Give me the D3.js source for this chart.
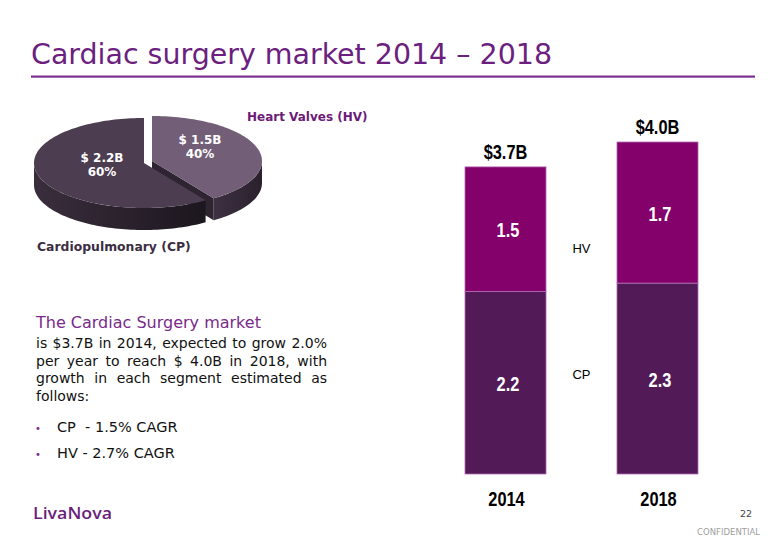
<!DOCTYPE html>
<html><head><meta charset="utf-8">
<script src="https://cdn.jsdelivr.net/npm/d3@7"></script>
<style>
html,body{margin:0;padding:0;background:#fff;}
svg{display:block;}
</style></head>
<body>
<svg id="chart" width="780" height="540"></svg>
<script>
// ---- data ----
const years = ["2014", "2018"];
const segments = ["CP", "HV"];
const cpValues = [2.2, 2.3];
const hvValues = [1.5, 1.7];
const totalLabels = ["$3.7B", "$4.0B"];
const pieNames = ["Cardiopulmonary (CP)", "Heart Valves (HV)"];
const pieValues = [2.2, 1.5];
const pieDollarLabels = ["$ 2.2B", "$ 1.5B"];
const piePctLabels = ["60%", "40%"];
const bodyHeading = "The Cardiac Surgery market";
const bodyLines = ["is $3.7B in 2014, expected to grow 2.0%", "per year to reach $ 4.0B in 2018, with", "growth in each segment estimated as", "follows:"];
const bullets = ["CP  - 1.5% CAGR", "HV - 2.7% CAGR"];

const svg = d3.select("#chart");
const purple = "#6c1f7e";
const sans = "'DejaVu Sans', Verdana, sans-serif";
const narrow = "'Liberation Sans', Arial, sans-serif";
const NARROW = 0.82;

// helper: condensed bold text via horizontal scaling
function narrowText(parent, xPos, yPos, txt, size, fill) {
  return parent.append("text")
    .attr("transform", `translate(${xPos},${yPos}) scale(${NARROW},1)`)
    .attr("text-anchor", "middle")
    .attr("font-family", narrow).attr("font-weight", "bold").attr("font-size", size)
    .attr("fill", fill).text(txt);
}

// ---- title ----
svg.append("text").attr("x", 31).attr("y", 64)
  .attr("font-family", "'DejaVu Sans Condensed', 'DejaVu Sans', sans-serif")
  .attr("font-size", 29).attr("fill", purple)
  .attr("textLength", 521).attr("lengthAdjust", "spacingAndGlyphs")
  .text("Cardiac surgery market 2014 \u2013 2018");
svg.append("rect").attr("x", 31).attr("y", 75.5).attr("width", 724).attr("height", 2.2).attr("fill", "#7d3190");

// ---- stacked bars ----
const x = d3.scaleBand().domain(years).range([465, 698]).paddingInner(0.467).paddingOuter(0);
const y = d3.scaleLinear().domain([0, 4.0]).range([474, 142]);
const stackData = years.map((yr, i) => ({year: yr, CP: cpValues[i], HV: hvValues[i]}));
const stacked = d3.stack().keys(segments)(stackData);
const barColor = {CP: "#521a57", HV: "#84006a"};

const g = svg.append("g");
stacked.forEach(layer => {
  g.selectAll(null).data(layer).enter().append("rect")
    .attr("x", d => x(d.data.year))
    .attr("y", d => y(d[1]))
    .attr("width", x.bandwidth())
    .attr("height", d => y(d[0]) - y(d[1]))
    .attr("fill", barColor[layer.key])
    .attr("stroke", "#b26cb4").attr("stroke-width", 0.8);
  layer.forEach(d => {
    narrowText(g, x(d.data.year) + x.bandwidth() / 2 + 2.5, (y(d[0]) + y(d[1])) / 2 + 8,
      d3.format(".1f")(d[1] - d[0]), 20, "#fff");
  });
});
// totals
stackData.forEach((d, i) => {
  narrowText(g, x(d.year) + x.bandwidth() / 2, y(d.CP + d.HV) - 8, totalLabels[i], 20, "#000");
});
// x axis labels
const xAxis = svg.append("g").attr("transform", "translate(0,488)")
  .call(d3.axisBottom(x).tickSize(0).tickPadding(0));
xAxis.select(".domain").remove();
xAxis.selectAll(".tick text").attr("font-family", narrow).attr("font-weight", "bold")
  .attr("font-size", 20).attr("fill", "#000").attr("dy", "0.9em")
  .attr("transform", `scale(${NARROW},1)`)
  .attr("x", 0);
xAxis.selectAll(".tick").each(function() {
  const t = d3.select(this);
  const tr = t.attr("transform");
  const m = /translate\(([-\d.]+),/.exec(tr);
  t.attr("transform", `translate(${(+m[1]) + 1},0)`);
});
// segment legend labels between bars
const midX = (x(years[0]) + x(years[1]) + x.bandwidth()) / 2;
svg.append("text").attr("x", midX).attr("y", 253).attr("text-anchor", "middle")
  .attr("font-family", "'Liberation Sans', Arial, sans-serif").attr("font-size", 13).text("HV");
svg.append("text").attr("x", midX).attr("y", 379).attr("text-anchor", "middle")
  .attr("font-family", "'Liberation Sans', Arial, sans-serif").attr("font-size", 13).text("CP");

// ---- 3D pie ----
const defs = svg.append("defs");
function sideGrad(id, c1, c2) {
  const gr = defs.append("linearGradient").attr("id", id).attr("x1", "0").attr("x2", "1").attr("y1", "0").attr("y2", "0");
  gr.append("stop").attr("offset", "0").attr("stop-color", c1);
  gr.append("stop").attr("offset", "1").attr("stop-color", c2);
}
sideGrad("cpSide", "#3a2e3d", "#1c161e");
sideGrad("hvSide", "#3e3142", "#2a212d");

const rx = 110, ry = 45, depth = 22;
const pie = d3.pie().sort(null).startAngle(0).value(d => d);
const arcs = pie([pieValues[1], pieValues[0]]);
const hvArc = arcs[0], cpArc = arcs[1];
const centers = {HV: [152, 161], CP: [144, 163]};
const topColors = {HV: "#735e78", CP: "#4c3d50"};

function pt(c, a, dz) { return [c[0] + rx * Math.sin(a), c[1] - ry * Math.cos(a) + (dz || 0)]; }
function arcPts(c, a0, a1, dz) {
  const n = Math.max(2, Math.ceil((a1 - a0) / 0.03));
  return d3.range(n + 1).map(i => pt(c, a0 + (a1 - a0) * i / n, dz));
}
const line = d3.line();
function drawSlice(key, arc) {
  const c = centers[key];
  const a0 = arc.startAngle, a1 = arc.endAngle;
  const grp = svg.append("g");
  if (key === "HV") {
    const p = pt(c, a1);
    grp.append("path").attr("d", line([c, p, [p[0], p[1] + depth], [c[0], c[1] + depth]]) + "Z")
      .attr("fill", "#2e2432");
  }
  const s0 = Math.max(a0, Math.PI / 2), s1 = Math.min(a1, 3 * Math.PI / 2);
  if (s1 > s0) {
    const top = arcPts(c, s0, s1, 0);
    const bot = arcPts(c, s0, s1, depth).reverse();
    grp.append("path").attr("d", line(top.concat(bot)) + "Z")
      .attr("fill", key === "CP" ? "url(#cpSide)" : "url(#hvSide)");
  }
  grp.append("path").attr("d", line([c].concat(arcPts(c, a0, a1, 0))) + "Z")
    .attr("fill", topColors[key]);
}
drawSlice("HV", hvArc);
drawSlice("CP", cpArc);

// pie labels
const pieLbl = svg.append("g").attr("font-family", sans).attr("font-weight", "bold")
  .attr("font-size", 12).attr("fill", "#fff").attr("text-anchor", "middle");
pieLbl.append("text").attr("x", 102).attr("y", 162).text(pieDollarLabels[0]);
pieLbl.append("text").attr("x", 102).attr("y", 176).text(piePctLabels[0]);
pieLbl.append("text").attr("x", 200).attr("y", 144).text(pieDollarLabels[1]);
pieLbl.append("text").attr("x", 200).attr("y", 158).text(piePctLabels[1]);

svg.append("text").attr("x", 247).attr("y", 121).attr("font-family", sans).attr("font-weight", "bold")
  .attr("font-size", 12).attr("fill", "#6c1a78").text(pieNames[1]);
svg.append("text").attr("x", 37).attr("y", 251).attr("font-family", sans).attr("font-weight", "bold")
  .attr("font-size", 12.4).attr("fill", "#3b2d42").text(pieNames[0]);

// ---- body text ----
svg.append("text").attr("x", 36).attr("y", 328).attr("font-family", sans).attr("font-size", 16)
  .attr("fill", "#7a2a8a").text(bodyHeading);

const left = 36, right = 327;
bodyLines.forEach((ln, i) => {
  const yy = 348 + i * 17.5;
  const t = svg.append("text").attr("y", yy).attr("font-family", sans).attr("font-size", 14).attr("fill", "#111");
  const words = ln.split(" ");
  const spans = words.map(w => t.append("tspan").text(w));
  const widths = spans.map(s => s.node().getComputedTextLength());
  const total = d3.sum(widths);
  const justify = i < bodyLines.length - 1;
  const gap = justify ? (right - left - total) / (words.length - 1) : 4.5;
  let cx = left;
  spans.forEach((s, k) => { s.attr("x", cx); cx += widths[k] + gap; });
});

bullets.forEach((b, i) => {
  const yy = 432 + i * 26;
  svg.append("text").attr("x", 35).attr("y", yy).attr("font-family", sans).attr("font-size", 10)
    .attr("fill", "#7a2a8a").text("\u2022");
  svg.append("text").attr("x", 57).attr("y", yy).attr("font-family", sans).attr("font-size", 14.5)
    .attr("fill", "#111").attr("xml:space", "preserve").style("white-space", "pre").text(b);
});

// ---- footer ----
svg.append("text").attr("x", 33).attr("y", 519).attr("font-family", "'Open Sans', sans-serif")
  .attr("font-weight", 600).attr("font-size", 17).attr("fill", "#6b1f7b")
  .attr("textLength", 79).attr("lengthAdjust", "spacingAndGlyphs").text("LivaNova");
svg.append("text").attr("x", 752).attr("y", 517).attr("text-anchor", "end").attr("font-family", sans)
  .attr("font-size", 9.5).attr("fill", "#444").text("22");
svg.append("text").attr("x", 760).attr("y", 535).attr("text-anchor", "end").attr("font-family", sans)
  .attr("font-size", 8.5).attr("fill", "#a0a0a0").text("CONFIDENTIAL");
</script>
</body></html>
